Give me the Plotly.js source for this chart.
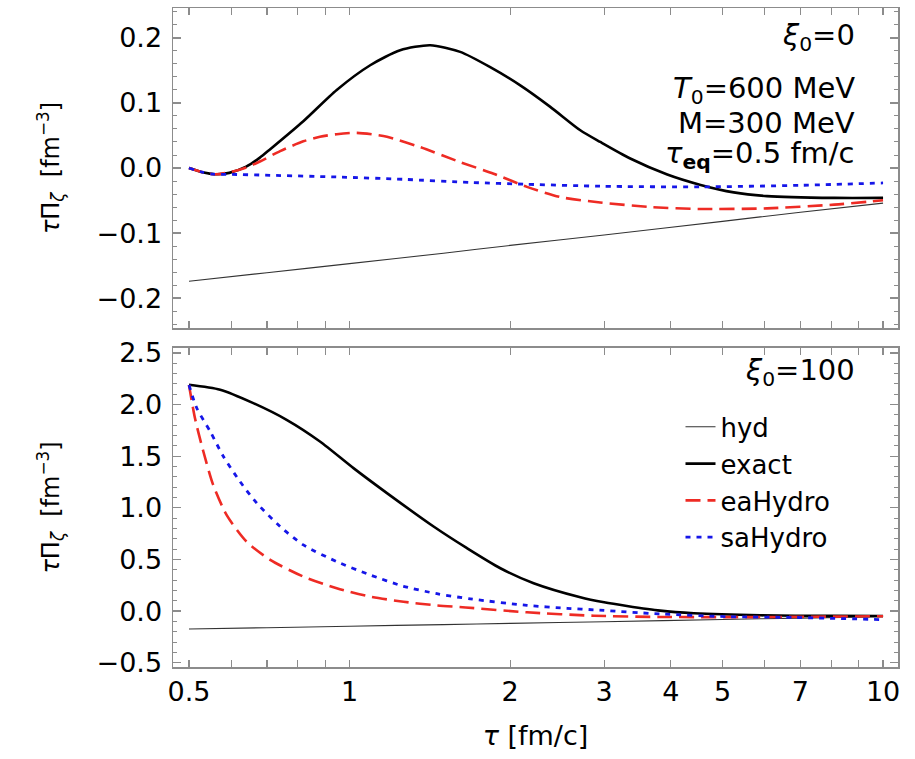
<!DOCTYPE html>
<html><head><meta charset="utf-8">
<script src="https://cdn.plot.ly/plotly-3.0.1.min.js"></script>
<style>html,body{margin:0;padding:0;background:#fff}</style>
</head><body><div id="chart" style="width:915px;height:759px"></div>
<script>
// ---- data ----
const tauHyd = [0.5, 0.7, 1, 1.5, 2, 3, 5, 7, 10];
const hyd    = [-0.174, -0.161, -0.147, -0.131, -0.119, -0.103, -0.082, -0.068, -0.054];

// xi0 = 0
const tauExact0 = [0.5, 0.53, 0.56, 0.595, 0.64, 0.679, 0.71, 0.819, 0.946, 1.093, 1.244, 1.416, 1.612, 1.835, 2.089, 2.378, 2.707, 2.95, 3.35, 3.94, 4.55, 5.25, 6.06, 8.1, 10.0];
const exact0    = [0.0, -0.0065, -0.0095, -0.0075, 0.002, 0.016, 0.029, 0.072, 0.12, 0.158, 0.181, 0.1888, 0.1785, 0.155, 0.127, 0.094, 0.058, 0.040, 0.015, -0.010, -0.026, -0.0375, -0.0432, -0.046, -0.046];
const tauEa0 = [0.5, 0.53, 0.56, 0.6, 0.641, 0.679, 0.741, 0.819, 0.88, 0.946, 1.032, 1.175, 1.357, 1.612, 1.862, 2.15, 2.48, 2.95, 3.66, 4.55, 6.06, 8.1, 10.0];
const ea0    = [0, -0.0065, -0.0097, -0.006, 0.001, 0.010, 0.026, 0.041, 0.048, 0.052, 0.054, 0.048, 0.032, 0.009, -0.0087, -0.029, -0.0446, -0.053, -0.060, -0.063, -0.062, -0.0563, -0.0497];
const tauSa0 = [0.5, 0.53, 0.555, 0.6, 0.71, 0.946, 1.262, 1.684, 2.15, 2.95, 4.55, 7.0, 10];
const sa0    = [0, -0.0065, -0.0095, -0.0098, -0.0112, -0.0138, -0.0174, -0.0222, -0.025, -0.028, -0.029, -0.0266, -0.023];

// xi0 = 100
const tauExact100 = [0.5, 0.572, 0.660, 0.762, 0.880, 1.017, 1.175, 1.437, 1.66, 1.917, 2.213, 2.707, 3.0, 3.31, 3.82, 4.42, 5.89, 8.0, 10.0];
const exact100    = [2.193, 2.145, 2.015, 1.853, 1.643, 1.385, 1.143, 0.819, 0.609, 0.415, 0.27, 0.134, 0.085, 0.049, 0.004, -0.021, -0.041, -0.047, -0.048];
const tauEa100 = [0.5, 0.513, 0.532, 0.555, 0.588, 0.641, 0.71, 0.819, 0.946, 1.093, 1.262, 1.458, 1.65, 2.15, 2.87, 3.82, 5.89, 10.0];
const ea100    = [2.19, 1.870, 1.546, 1.223, 0.932, 0.673, 0.496, 0.334, 0.221, 0.140, 0.09, 0.055, 0.035, -0.012, -0.045, -0.057, -0.058, -0.05];
const tauSa100 = [0.5, 0.517, 0.548, 0.580, 0.623, 0.670, 0.741, 0.819, 0.946, 1.093, 1.262, 1.458, 1.684, 2.15, 2.556, 2.87, 3.82, 5.1, 6.8, 10.0];
const sa100    = [2.19, 1.967, 1.740, 1.498, 1.255, 1.046, 0.819, 0.641, 0.479, 0.350, 0.24, 0.168, 0.118, 0.055, 0.027, 0.012, -0.028, -0.054, -0.062, -0.083];

// ticks
const xTickVals = [0.5, 0.6, 0.7, 0.8, 0.9, 1, 2, 3, 4, 5, 6, 7, 8, 9, 10];
const xTickText = ['0.5', '', '', '', '', '1', '2', '3', '4', '5', '', '7', '', '', '10'];
const seriesNames = ['hyd', 'exact', 'eaHydro', 'saHydro'];

// ---- styles ----
const FONT = 'DejaVu Sans, Arial, sans-serif';
const FRAME = '#8c8c8c';
const sHyd = {color: '#333333', width: 1.1};
const sExact = {color: '#000000', width: 2.6};
const sEa = {color: '#ee2b24', width: 2.6, dash: '15px,7px'};
const sSa = {color: '#1616e8', width: 2.8, dash: '5px,6px'};

function tr(x, y, name, line, xa, ya, show) {
  return {x: x, y: y, name: name, type: 'scatter', mode: 'lines',
          line: Object.assign({shape: 'spline', smoothing: 0.7}, line),
          xaxis: xa, yaxis: ya, showlegend: show, hoverinfo: 'skip'};
}

const data = [
  tr(tauHyd, hyd, seriesNames[0], sHyd, 'x', 'y', false),
  tr(tauExact0, exact0, seriesNames[1], sExact, 'x', 'y', false),
  tr(tauEa0, ea0, seriesNames[2], sEa, 'x', 'y', false),
  tr(tauSa0, sa0, seriesNames[3], sSa, 'x', 'y', false),
  tr(tauHyd, hyd, seriesNames[0], sHyd, 'x2', 'y2', true),
  tr(tauExact100, exact100, seriesNames[1], sExact, 'x2', 'y2', true),
  tr(tauEa100, ea100, seriesNames[2], sEa, 'x2', 'y2', true),
  tr(tauSa100, sa100, seriesNames[3], sSa, 'x2', 'y2', true)
];

const xBase = {
  type: 'log', range: [-0.331, 1.028], tickvals: xTickVals, ticktext: xTickText,
  ticks: 'inside', ticklen: 7, tickwidth: 1.2, tickcolor: FRAME,
  showline: true, linecolor: FRAME, linewidth: 1.5, mirror: 'ticks',
  showgrid: false, zeroline: false, fixedrange: true,
  tickfont: {family: FONT, size: 27, color: '#000'}
};
const yBase = {
  ticks: 'inside', ticklen: 8, tickwidth: 1.2, tickcolor: FRAME,
  showline: true, linecolor: FRAME, linewidth: 1.5, mirror: 'ticks',
  showgrid: false, zeroline: false, fixedrange: true, tickformat: '.1f',
  tickfont: {family: FONT, size: 27, color: '#000'}, ticklabelstandoff: 4,
  title: {text: '<i>τ</i>Π<sub><i>ζ</i></sub>  [fm<sup>−3</sup>]', font: {family: FONT, size: 24, color: '#000'}, standoff: 30}
};

const layout = {
  width: 915, height: 759,
  margin: {l: 173, r: 17, t: 8, b: 92},
  paper_bgcolor: '#fff', plot_bgcolor: '#fff',
  font: {family: FONT, color: '#000'},
  xaxis: Object.assign({}, xBase, {anchor: 'y', domain: [0, 1], showticklabels: false}),
  xaxis2: Object.assign({}, xBase, {anchor: 'y2', domain: [0, 1], matches: 'x',
    title: {text: '<i>τ</i> [fm/c]', font: {family: FONT, size: 27, color: '#000'}, standoff: 20}}),
  yaxis: Object.assign({}, yBase, {domain: [0.5144, 1], range: [-0.246, 0.246], dtick: 0.1, tick0: 0,
    minor: {dtick: 0.02, ticklen: 4, ticks: 'inside', tickcolor: FRAME, tickwidth: 1}}),
  yaxis2: Object.assign({}, yBase, {domain: [0, 0.4841], range: [-0.542, 2.549], dtick: 0.5, tick0: 0,
    minor: {dtick: 0.1, ticklen: 4, ticks: 'inside', tickcolor: FRAME, tickwidth: 1}}),
  showlegend: true,
  legend: {x: 0.7, xanchor: 'left', y: 0.40, yanchor: 'top', yref: 'paper',
           bgcolor: 'rgba(0,0,0,0)', borderwidth: 0,
           font: {family: FONT, size: 26, color: '#000'}, tracegroupgap: 0},
  annotations: [
    {text: '<i>ξ</i><sub>0</sub>=0', xref: 'x domain', yref: 'y domain', x: 0.9434, y: 0.909, xanchor: 'right', yanchor: 'middle', showarrow: false, font: {family: FONT, size: 29}},
    {text: '<i>T</i><sub>0</sub>=600 MeV', xref: 'x domain', yref: 'y domain', x: 0.9434, y: 0.745, xanchor: 'right', yanchor: 'middle', showarrow: false, font: {family: FONT, size: 29}},
    {text: 'M=300 MeV', xref: 'x domain', yref: 'y domain', x: 0.9434, y: 0.642, xanchor: 'right', yanchor: 'middle', showarrow: false, font: {family: FONT, size: 29}},
    {text: '<i>τ</i><sub><b>eq</b></sub>=0.5 fm/c', xref: 'x domain', yref: 'y domain', x: 0.9434, y: 0.542, xanchor: 'right', yanchor: 'middle', showarrow: false, font: {family: FONT, size: 29}},
    {text: '<i>ξ</i><sub>0</sub>=100', xref: 'x2 domain', yref: 'y2 domain', x: 0.9434, y: 0.925, xanchor: 'right', yanchor: 'middle', showarrow: false, font: {family: FONT, size: 29}}
  ]
};

Plotly.newPlot('chart', data, layout, {displayModeBar: false, staticPlot: true});
</script></body></html>
